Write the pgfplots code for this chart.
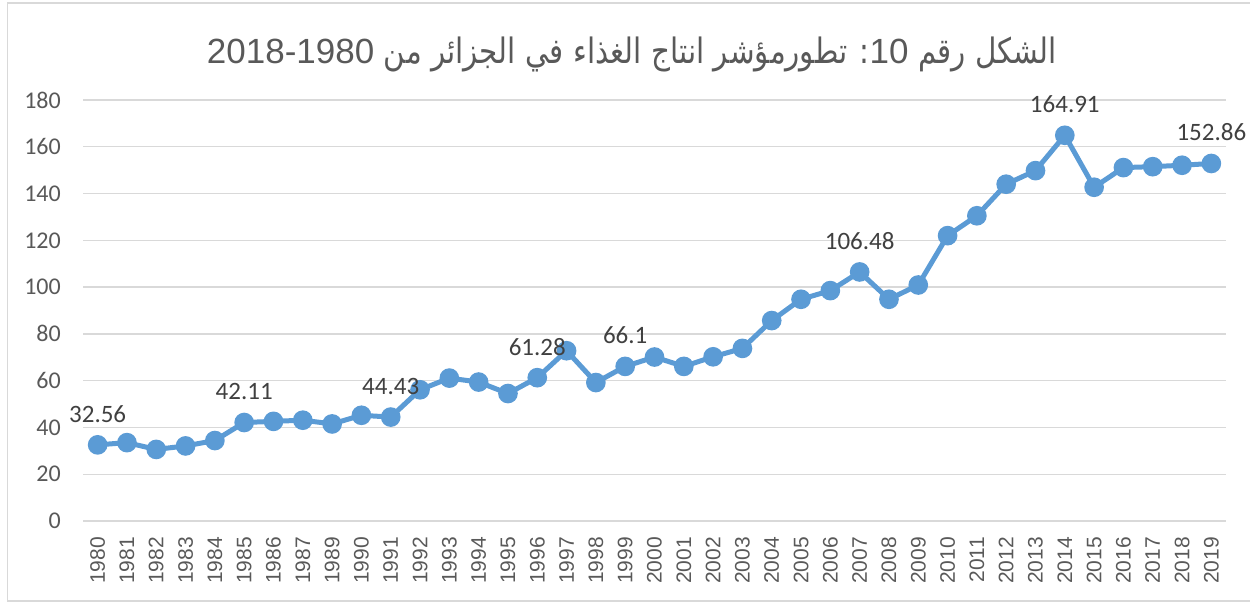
\documentclass[border=0pt]{standalone}
\usepackage{fontspec}
\usepackage{pgfplots}
\pgfplotsset{compat=1.18}
\usepackage{pgfplotstable}
\setmainfont{Liberation Sans}
\newfontfamily\carlito{Carlito}
\newfontfamily\latinfont{Liberation Sans}
\newfontfamily\arabicfont[Script=Arabic, FakeStretch=0.84]{DejaVu Sans}
\TeXXeTstate=1
\definecolor{linec}{HTML}{5B9BD5}
\definecolor{gridc}{HTML}{D9D9D9}
\definecolor{tickc}{HTML}{595959}
\definecolor{labc}{HTML}{404040}

\pgfplotstableread{
x y
0 32.56
1 33.5
2 30.6
3 32.1
4 34.4
5 42.11
6 42.6
7 43.1
8 41.5
9 45.2
10 44.43
11 56.1
12 61.1
13 59.4
14 54.5
15 61.28
16 72.8
17 59.2
18 66.1
19 70.1
20 66.1
21 70.2
22 73.8
23 85.7
24 94.8
25 98.5
26 106.48
27 94.8
28 100.9
29 122.0
30 130.5
31 144.0
32 149.8
33 164.91
34 142.7
35 151.1
36 151.5
37 152.1
38 152.86
}\foodtable

\pgfplotstableread{
x y lab
0 32.56 32.56
5 42.11 42.11
10 44.43 44.43
15 61.28 61.28
18 66.1 66.1
26 106.48 106.48
33 164.91 164.91
38 152.86 152.86
}\labtable

\begin{document}
\begin{tikzpicture}
\path[use as bounding box] (0,0) rectangle (1250bp,602bp);
\draw[gridc, line width=1.3bp] (7.5bp,1bp) rectangle (1262bp,599bp);
\node[anchor=base, text=tickc, inner sep=0pt] at (632bp,538bp)
  {\fontsize{35bp}{40bp}\selectfont\arabicfont\beginR الشكل رقم \beginL{\latinfont 10}\endL: تطورمؤشر انتاج الغذاء في الجزائر من \beginL{\latinfont 2018-1980}\endL\endR};
\begin{axis}[
  at={(83bp,81bp)}, anchor=south west,
  scale only axis, width=1143bp, height=421bp,
  xmin=-0.5, xmax=38.5, ymin=0, ymax=180,
  ytick={0,20,...,180},
  xtick={0,...,38},
  xticklabels={1980,1981,1982,1983,1984,1985,1986,1987,1989,1990,1991,1992,1993,1994,1995,1996,1997,1998,1999,2000,2001,2002,2003,2004,2005,2006,2007,2008,2009,2010,2011,2012,2013,2014,2015,2016,2017,2018,2019},
  axis line style={draw=none},
  major tick length=0pt,
  ymajorgrids, grid style={gridc, line width=1.3bp},
  /pgf/number format/assume math mode=true,
  yticklabel style={font=\carlito\fontsize{24bp}{24bp}\selectfont, text=tickc, anchor=east, inner sep=0pt},
  yticklabel shift=22bp,
  xticklabel style={font=\fontsize{21bp}{21bp}\selectfont, text=tickc, rotate=90, anchor=east, inner sep=0pt},
  xticklabel shift=16bp,
  clip=false,
]
\addplot[linec, line width=5bp, mark=*, mark size=7.3bp, mark options={fill=linec, draw=none}] table[x=x,y=y] {\foodtable};
\addplot[draw=none, mark=none, nodes near coords, point meta=explicit symbolic,
  every node near coord/.append style={anchor=center, yshift=31bp, inner sep=0pt, text=labc, font=\carlito\fontsize{25bp}{25bp}\selectfont}]
  table[x=x,y=y,meta=lab] {\labtable};
\end{axis}
\end{tikzpicture}
\end{document}
